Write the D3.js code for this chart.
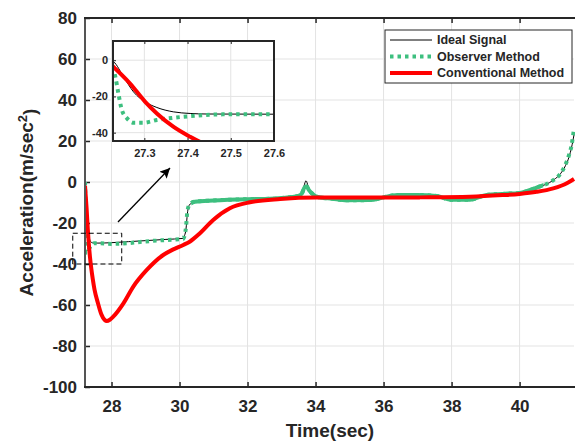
<!DOCTYPE html>
<html>
<head>
<meta charset="utf-8">
<script src="https://cdn.jsdelivr.net/npm/d3@7"></script>
<style>
  body { margin: 0; background: #fff; }
  text { font-family: Arial, "Liberation Sans", sans-serif; font-weight: bold; fill: #262626; }
</style>
</head>
<body>
<script>
// ---- data ----
const idealT = [27.22, 27.229, 27.252, 27.275, 27.302, 27.329, 27.367, 27.406, 27.444, 27.6, 28.0, 28.5, 29.0, 29.6, 30.1, 30.15, 30.19, 30.23, 30.29, 30.41, 31.0, 32.0, 32.66, 33.0, 33.5, 33.6, 33.66, 33.72, 33.78, 33.85, 34.03, 34.5, 34.92, 35.6, 36.0, 36.4, 37.0, 37.5, 38.0, 38.5, 39.0, 39.5, 40.0, 40.5, 41.0, 41.2, 41.35, 41.45, 41.53, 41.6];
const idealY = [0, -0.9, -9.2, -17.5, -23, -26.1, -28.5, -29.4, -29.7, -29.8, -29.6, -29.1, -28.6, -28.0, -27.5, -26, -23, -15.5, -11.2, -9.9, -9.1, -8.3, -8.0, -7.6, -6.9, -6.2, -2, 0.6, -2, -5.5, -7.3, -8.3, -9.1, -8.9, -7.8, -6.6, -6.5, -7.0, -8.5, -8.6, -6.5, -6.0, -5.3, -2.8, 1.0, 4, 8, 12, 17, 23];

const obsT = [27.22, 27.233, 27.24, 27.248, 27.26, 27.275, 27.298, 27.329, 27.367, 27.406, 27.483, 27.6, 28.0, 28.5, 29.0, 29.6, 30.1, 30.15, 30.19, 30.23, 30.3, 30.45, 31.0, 32.0, 32.66, 33.0, 33.49, 33.6, 33.68, 33.74, 33.8, 33.89, 34.03, 34.5, 34.92, 35.6, 36.0, 36.4, 37.0, 37.56, 37.96, 38.54, 39.03, 39.5, 40.0, 40.5, 41.0, 41.2, 41.35, 41.45, 41.53, 41.6];
const obsY = [0, -9.2, -18.4, -27.5, -32.1, -34.5, -34.5, -33, -31.8, -30.9, -29.9, -29.9, -30.2, -29.8, -29.0, -28.3, -27.8, -26, -22, -14.5, -10.8, -9.6, -9.0, -8.4, -8.2, -7.8, -6.8, -5.5, -2.5, -2.2, -3.8, -5.5, -7.2, -8.2, -8.9, -8.8, -7.5, -6.3, -6.3, -6.8, -8.6, -8.6, -6.3, -5.8, -5.3, -2.7, 1.0, 4, 8.5, 13, 18, 26];

const convT = [27.22, 27.267, 27.302, 27.329, 27.367, 27.406, 27.45, 27.5, 27.6, 27.7, 27.8, 27.86, 27.95, 28.05, 28.35, 28.64, 29.03, 29.52, 29.8, 30.11, 30.31, 30.6, 30.99, 31.48, 32.07, 32.96, 34.04, 36.0, 37.07, 38.54, 39.5, 40.0, 40.5, 40.99, 41.39, 41.6];
const convY = [-1.8, -12.9, -23, -29.4, -36.7, -42.3, -47.5, -52.5, -59, -64.5, -67.3, -67.8, -67.2, -65.7, -59.2, -51, -43, -35.6, -33, -30.7, -29, -25, -18.5, -12.8, -9.9, -8.3, -7.6, -7.6, -7.5, -7.2, -6.4, -5.8, -4.8, -3.1, -0.6, 1.5];

const seriesNames = ["Ideal Signal", "Observer Method", "Conventional Method"];
const xTicks = [28, 30, 32, 34, 36, 38, 40];
const yTicks = [-100, -80, -60, -40, -20, 0, 20, 40, 60, 80];
const insetXTicks = [27.3, 27.4, 27.5, 27.6];
const insetYTicks = [-40, -20, 0];

// stretch where the observer trace is dense enough to look solid
const obsDenseRange = [30.35, 40.7];

// zoom box and arrow annotation, in data units
const zoomBox = { x0: 26.86, x1: 28.30, y0: -25, y1: -40 };
const arrow = { x1: 28.19, y1: -19.5, x2: 29.72, y2: 6.8 };

// ---- layout ----
const W = 575, H = 441;
const plot = { left: 85, right: 574, top: 18, bottom: 387 };
const inset = { left: 113, right: 274, top: 41, bottom: 141 };

const svg = d3.select('body').append('svg')
  .attr('width', W).attr('height', H);

const x = d3.scaleLinear().domain([27.22, 41.6]).range([plot.left, plot.right]);
const y = d3.scaleLinear().domain([-100, 80]).range([plot.bottom, plot.top]);

const ix = d3.scaleLinear().domain([27.2275, 27.6]).range([inset.left, inset.right]);
const iy = d3.scaleLinear().domain([-44.6, 10.6]).range([inset.bottom, inset.top]);

const series = [
  { t: idealT, v: idealY, color: '#000', width: 1, dash: null },
  { t: obsT, v: obsY, color: '#3dbf7f', width: 4, dash: '3.5,4', dense: true },
  { t: convT, v: convY, color: '#ff0000', width: 4, dash: null }
];

const defs = svg.append('defs');
defs.append('clipPath').attr('id', 'clipMain').append('rect')
  .attr('x', plot.left).attr('y', plot.top)
  .attr('width', plot.right - plot.left + 2).attr('height', plot.bottom - plot.top);
defs.append('clipPath').attr('id', 'clipDense').append('rect')
  .attr('x', x(obsDenseRange[0])).attr('y', plot.top)
  .attr('width', x(obsDenseRange[1]) - x(obsDenseRange[0])).attr('height', plot.bottom - plot.top);
defs.append('clipPath').attr('id', 'clipInset').append('rect')
  .attr('x', inset.left).attr('y', inset.top)
  .attr('width', inset.right - inset.left).attr('height', inset.bottom - inset.top);
defs.append('marker').attr('id', 'arrowHead')
  .attr('viewBox', '0 0 10 10').attr('refX', 10).attr('refY', 5)
  .attr('markerWidth', 10).attr('markerHeight', 10)
  .attr('markerUnits', 'userSpaceOnUse')
  .attr('orient', 'auto')
  .append('path').attr('d', 'M0,0 L10,5 L0,10 L2,5 Z').attr('fill', '#000');

// grid + axes for a panel
function drawFrame(g, xs, ys, xt, yt, box, opts) {
  g.append('rect')
    .attr('x', box.left).attr('y', box.top)
    .attr('width', box.right - box.left).attr('height', box.bottom - box.top)
    .attr('fill', '#fff');

  g.selectAll('.vg').data(xt).enter().append('line')
    .attr('x1', d => xs(d)).attr('x2', d => xs(d))
    .attr('y1', box.top).attr('y2', box.bottom)
    .attr('stroke', '#e3e3e3').attr('stroke-width', 1);
  g.selectAll('.hg').data(yt).enter().append('line')
    .attr('x1', box.left).attr('x2', box.right)
    .attr('y1', d => ys(d)).attr('y2', d => ys(d))
    .attr('stroke', '#e3e3e3').attr('stroke-width', 1);

  const fmt = d => String(d);
  const xa = g.append('g').attr('transform', `translate(0,${box.bottom})`)
    .call(d3.axisBottom(xs).tickValues(xt).tickFormat(fmt)
      .tickSizeInner(-opts.tick).tickSizeOuter(0).tickPadding(opts.xPad));
  const xTop = g.append('g').attr('transform', `translate(0,${box.top})`)
    .call(d3.axisTop(xs).tickValues(xt).tickFormat('')
      .tickSizeInner(-opts.tick).tickSizeOuter(0));
  const ya = g.append('g').attr('transform', `translate(${box.left},0)`)
    .call(d3.axisLeft(ys).tickValues(yt).tickFormat(fmt)
      .tickSizeInner(-opts.tick).tickSizeOuter(0).tickPadding(opts.yPad));

  [xa, xTop, ya].forEach(a => {
    a.select('.domain').remove();
    a.selectAll('line').attr('stroke', '#262626').attr('stroke-width', opts.lw);
    a.selectAll('text')
      .style('font-size', opts.font + 'px')
      .style('font-family', 'Arial, "Liberation Sans", sans-serif')
      .style('font-weight', 'bold')
      .attr('fill', '#262626');
  });
  return g;
}

function drawLines(g, xs, ys, clipId, withDense) {
  const lg = g.append('g').attr('clip-path', `url(#${clipId})`);
  series.forEach(s => {
    const pts = s.t.map((t, i) => [t, s.v[i]]);
    const line = d3.line()
      .x(d => xs(d[0])).y(d => ys(d[1]))
      .curve(d3.curveMonotoneX);
    lg.append('path').datum(pts)
      .attr('d', line)
      .attr('fill', 'none')
      .attr('stroke', s.color)
      .attr('stroke-width', s.width)
      .attr('stroke-dasharray', s.dash)
      .attr('stroke-linejoin', 'round');
    if (withDense && s.dense) {
      lg.append('path').datum(pts)
        .attr('d', line)
        .attr('clip-path', 'url(#clipDense)')
        .attr('fill', 'none')
        .attr('stroke', s.color)
        .attr('stroke-width', s.width)
        .attr('stroke-linejoin', 'round');
    }
  });
}

// ---- main panel ----
const main = svg.append('g');
drawFrame(main, x, y, xTicks, yTicks, plot, { tick: 5, xPad: 13, yPad: 8, font: 17, lw: 1.5 });
drawLines(main, x, y, 'clipMain', true);

// frame border
main.append('line').attr('x1', plot.left).attr('x2', plot.left)
  .attr('y1', plot.top).attr('y2', plot.bottom)
  .attr('stroke', '#555').attr('stroke-width', 2);
main.append('line').attr('x1', plot.left - 1).attr('x2', W)
  .attr('y1', plot.top).attr('y2', plot.top)
  .attr('stroke', '#262626').attr('stroke-width', 2);
main.append('line').attr('x1', plot.left - 1).attr('x2', W)
  .attr('y1', plot.bottom).attr('y2', plot.bottom)
  .attr('stroke', '#262626').attr('stroke-width', 2);

// dashed zoom box
svg.append('rect')
  .attr('x', x(zoomBox.x0)).attr('y', y(zoomBox.y0))
  .attr('width', x(zoomBox.x1) - x(zoomBox.x0))
  .attr('height', y(zoomBox.y1) - y(zoomBox.y0))
  .attr('fill', 'none').attr('stroke', '#000')
  .attr('stroke-width', 1).attr('stroke-dasharray', '5,3');

// arrow
svg.append('line')
  .attr('x1', x(arrow.x1)).attr('y1', y(arrow.y1))
  .attr('x2', x(arrow.x2)).attr('y2', y(arrow.y2))
  .attr('stroke', '#000').attr('stroke-width', 1.3)
  .attr('marker-end', 'url(#arrowHead)');

// axis titles
svg.append('text')
  .attr('x', (plot.left + W) / 2).attr('y', 437)
  .attr('text-anchor', 'middle')
  .style('font-size', '19px')
  .text('Time(sec)');

const yl = svg.append('text')
  .attr('transform', `translate(33,${(plot.top + plot.bottom) / 2}) rotate(-90)`)
  .attr('text-anchor', 'middle')
  .style('font-size', '19px');
yl.append('tspan').text('Acceleration(m/sec');
yl.append('tspan').attr('dy', '-0.5em').style('font-size', '13px').text('2');
yl.append('tspan').attr('dy', '0.5em').text(')');

// ---- inset ----
const ins = svg.append('g');
drawFrame(ins, ix, iy, insetXTicks, insetYTicks, inset, { tick: 3, xPad: 8, yPad: 5, font: 11, lw: 1 });
drawLines(ins, ix, iy, 'clipInset', false);
ins.append('rect')
  .attr('x', inset.left).attr('y', inset.top)
  .attr('width', inset.right - inset.left).attr('height', inset.bottom - inset.top)
  .attr('fill', 'none').attr('stroke', '#262626').attr('stroke-width', 2);

// ---- legend ----
const lgBox = { x: 385, y: 30, w: 187, h: 53 };
const legend = svg.append('g');
legend.append('rect')
  .attr('x', lgBox.x).attr('y', lgBox.y).attr('width', lgBox.w).attr('height', lgBox.h)
  .attr('fill', '#fff').attr('stroke', '#262626').attr('stroke-width', 1);

const items = legend.selectAll('.item').data(series).enter().append('g')
  .attr('transform', (d, i) => `translate(${lgBox.x}, ${lgBox.y + 10 + i * 16.5})`);
items.append('line')
  .attr('x1', 5).attr('x2', 47).attr('y1', 0).attr('y2', 0)
  .attr('stroke', d => d.color)
  .attr('stroke-width', d => d.width)
  .attr('stroke-dasharray', d => d.dash);
items.append('text')
  .attr('x', 52).attr('y', 0).attr('dy', '0.35em')
  .style('font-size', '12.5px')
  .attr('fill', '#000')
  .text((d, i) => seriesNames[i]);
</script>
</body>
</html>
